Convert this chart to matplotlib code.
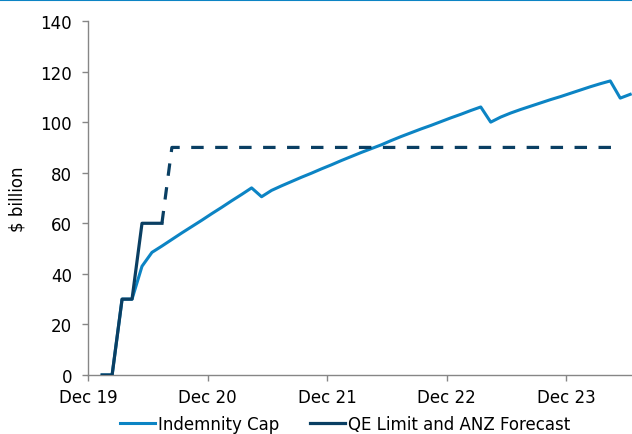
import numpy as np
import matplotlib
matplotlib.use("Agg")
import matplotlib.pyplot as plt
from matplotlib.lines import Line2D

# monthly observations, Jan 20 .. Jun 24 (month 0 = Dec 19)
months = list(range(1, 55))
indemnity_cap = [0, 0, 30, 30, 43, 48.5, 51, 53.6, 56.2, 58.7,
                 61.2, 63.8, 66.3, 68.9, 71.4, 74, 70.5, 73, 74.8, 76.5,
                 78.2, 79.8, 81.5, 83.1, 84.8, 86.4, 88, 89.5, 91, 92.7,
                 94.3, 95.8, 97.3, 98.7, 100.2, 101.7, 103.1, 104.6, 106, 100,
                 102, 103.6, 105, 106.3, 107.6, 108.9, 110.1, 111.4, 112.7, 114,
                 115.2, 116.3, 109.5, 111]
qe_actual = [0, 0, 30, 30, 60, 60, 60]            # Jan 20 .. Jul 20
qe_forecast = [60] + [90] * 46                    # Jul 20 .. May 24
tick_months = [0, 12, 24, 36, 48]
tick_labels = ["Dec 19", "Dec 20", "Dec 21", "Dec 22", "Dec 23"]

light_blue = "#0C84C4"
dark_blue = "#0A3F63"
grey = "#868686"

fig = plt.figure(figsize=(6.32, 4.35), dpi=100)
ax = fig.add_axes([88 / 632, 59 / 435, 544 / 632, 354 / 435])

x = np.array(months) + 0.42
ax.plot(x, indemnity_cap, color=light_blue, lw=2.2, label="Indemnity Cap", zorder=2)
ax.plot(x[:len(qe_actual)], qe_actual, color=dark_blue, lw=2.3,
        label="QE Limit and ANZ Forecast", zorder=3)
x_fc = x[len(qe_actual) - 1:len(qe_actual) - 1 + len(qe_forecast)]
ax.plot(x_fc, qe_forecast, color=dark_blue, lw=2.3, dashes=(3.9, 3.6), zorder=3)

ax.set_xlim(0, 54.6)
ax.set_ylim(0, 140)
ax.set_yticks(range(0, 141, 20))
ax.set_xticks(tick_months)
ax.set_xticklabels(tick_labels)

for side in ["top", "right"]:
    ax.spines[side].set_visible(False)
for side in ["left", "bottom"]:
    ax.spines[side].set_color(grey)
    ax.spines[side].set_linewidth(1.0)
ax.tick_params(axis="y", colors=grey, labelcolor="black", labelsize=12,
               length=4.5, width=1.0, pad=7)
ax.tick_params(axis="x", colors=grey, labelcolor="black", labelsize=12,
               length=4.5, width=1.0, pad=5)

ax.set_ylabel("$ billion", fontsize=12, labelpad=10)

handles, labels = ax.get_legend_handles_labels()
fig.legend(handles, labels, loc="center", bbox_to_anchor=(345 / 632, 10 / 435),
           ncol=2, frameon=False, fontsize=12, handlelength=2.1,
           handletextpad=0.2, columnspacing=1.8, borderaxespad=0, borderpad=0)

# thin rule along the top edge
fig.add_artist(Line2D([0, 1], [0.998, 0.998], transform=fig.transFigure,
                      color=light_blue, lw=1.5))

fig.savefig("out.png", dpi=100)
